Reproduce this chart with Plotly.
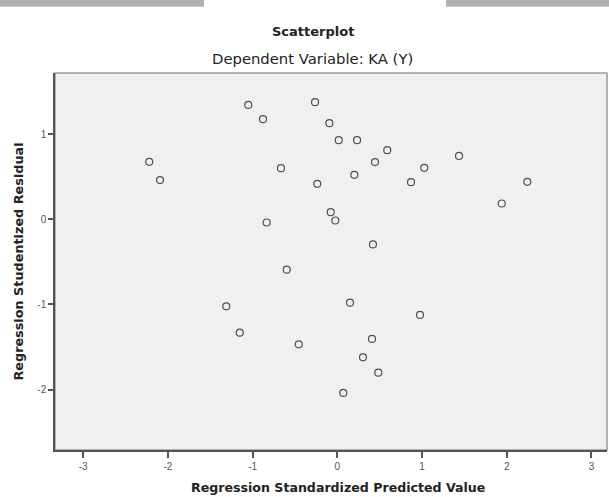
import plotly.graph_objects as go

# Data
pred = [-1.051, -0.877, -0.263, -0.094, 0.017, -2.220, -2.093, -0.665, -0.236, -0.078,
        -0.024, -0.834, -0.597, 0.233, 0.590, 0.445, 0.201, 1.027, 0.870, 1.437,
        2.243, 1.941, 0.421, -1.311, 0.150, 0.976, -1.152, -0.456, 0.410, 0.303,
        0.484, 0.071]
resid = [1.342, 1.175, 1.374, 1.128, 0.928, 0.674, 0.460, 0.600, 0.416, 0.084,
         -0.014, -0.038, -0.592, 0.928, 0.811, 0.671, 0.522, 0.604, 0.436, 0.744,
         0.440, 0.185, -0.295, -1.022, -0.979, -1.123, -1.331, -1.468, -1.404, -1.620,
         -1.800, -2.038]
x_ticks = [-3, -2, -1, 0, 1, 2, 3]
y_ticks = [-2, -1, 0, 1]

W, H = 609, 497
L, R, T, B = 55, 2, 73, 46.5
pw, ph = W - L - R, H - T - B

def px(xp):
    return (xp - L) / pw

def py(yp):
    return (H - B - yp) / ph

DJ = "DejaVu Sans, Verdana, sans-serif"

fig = go.Figure()
fig.add_trace(go.Scatter(
    x=pred, y=resid, mode="markers",
    marker=dict(symbol="circle-open", size=7, color="#505050", line=dict(width=1.2, color="#505050")),
    showlegend=False, hoverinfo="x+y"))

fig.update_layout(
    width=W, height=H, autosize=False,
    margin=dict(l=L, r=R, t=T, b=B, pad=0),
    paper_bgcolor="white", plot_bgcolor="#f0f0f0",
    font=dict(family="Liberation Sans, Arial, sans-serif", color="#222"),
    xaxis=dict(range=[-3.333, 3.184], tickvals=x_ticks, ticktext=[str(v) for v in x_ticks],
               showgrid=False, zeroline=False, showline=True, linecolor="#555", linewidth=1.5,
               ticks="outside", ticklen=6, tickcolor="#555", tickwidth=1.5,
               tickfont=dict(size=10, color="#555")),
    yaxis=dict(range=[-2.708, 1.717], tickvals=y_ticks, ticktext=[str(v) for v in y_ticks],
               showgrid=False, zeroline=False, showline=True, linecolor="#555", linewidth=1.5,
               ticks="outside", ticklen=5, tickcolor="#555", tickwidth=1.5,
               tickfont=dict(size=10, color="#555"),
               title=dict(text="<b>Regression Studentized Residual</b>",
                          font=dict(family=DJ, size=12.8, color="#222"), standoff=11)),
    shapes=[
        dict(type="rect", xref="paper", yref="paper", x0=0, x1=1, y0=0, y1=1,
             line=dict(color="#9a9a9a", width=1.5), fillcolor="rgba(0,0,0,0)", layer="below"),
        dict(type="rect", xref="paper", yref="paper", x0=px(0), x1=px(204), y0=py(6.6), y1=py(0),
             line=dict(width=0), fillcolor="#b0b0b0"),
        dict(type="rect", xref="paper", yref="paper", x0=px(446), x1=px(W), y0=py(6.6), y1=py(0),
             line=dict(width=0), fillcolor="#b0b0b0"),
    ],
    annotations=[
        dict(text="<b>Scatterplot</b>", xref="paper", yref="paper", x=px(312.5), y=py(31),
             showarrow=False, font=dict(family=DJ, size=13, color="#222"), xanchor="center", yanchor="middle"),
        dict(text="Dependent Variable: KA (Y)", xref="paper", yref="paper", x=px(312.5), y=py(58),
             showarrow=False, font=dict(family=DJ, size=14.8, color="#222"), xanchor="center", yanchor="middle"),
        dict(text="<b>Regression Standardized Predicted Value</b>", xref="paper", yref="paper",
             x=px(337.5), y=py(488), showarrow=False,
             font=dict(family=DJ, size=12.6, color="#222"), xanchor="center", yanchor="middle"),
    ],
)

fig.write_html("out.html", config={"displayModeBar": False},
               post_script="document.body.style.margin='0';document.body.style.overflow='hidden';")
